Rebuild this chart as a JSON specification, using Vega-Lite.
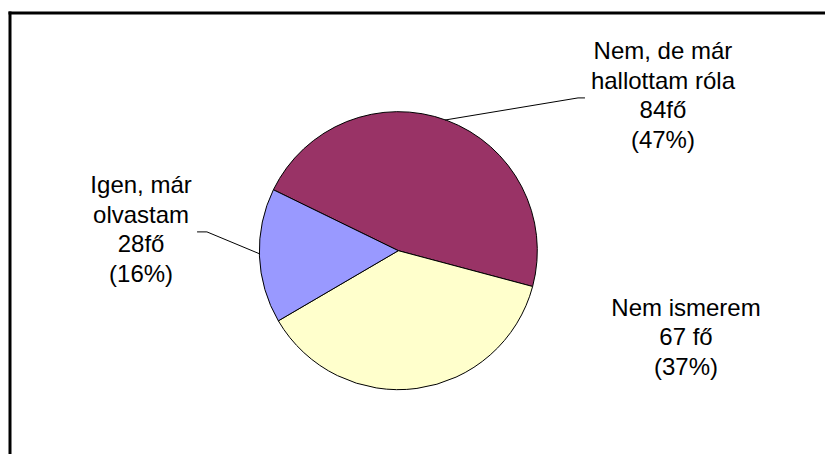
{
  "$schema": "https://vega.github.io/schema/vega-lite/v6.json",
  "width": 815,
  "height": 441,
  "padding": {"left": 10, "top": 13, "right": 0, "bottom": 0},
  "autosize": {"type": "none"},
  "background": "white",
  "config": {"view": {"stroke": null}, "font": "Liberation Sans"},
  "datasets": {
    "slices": [
      {"answer": "Nem, de már hallottam róla", "count": 84, "order": 1},
      {"answer": "Nem ismerem", "count": 67, "order": 2},
      {"answer": "Igen, már olvastam", "count": 28, "order": 3}
    ],
    "labels": [
      {"label": "Nem, de már\nhallottam róla\n84fő\n(47%)", "lx": 1.904, "ly": 1.379},
      {"label": "Nem ismerem\n67 fő\n(37%)", "lx": 2.07, "ly": -0.47},
      {"label": "Igen, már\nolvastam\n28fő\n(16%)", "lx": -1.851, "ly": 0.413}
    ],
    "leaders": [
      {"id": "a", "i": 1, "px": 0.336, "py": 0.94},
      {"id": "a", "i": 2, "px": 1.293, "py": 1.099},
      {"id": "a", "i": 3, "px": 1.343, "py": 1.099},
      {"id": "b", "i": 1, "px": -0.995, "py": -0.024},
      {"id": "b", "i": 2, "px": -1.377, "py": 0.135},
      {"id": "b", "i": 3, "px": -1.448, "py": 0.135}
    ]
  },
  "layer": [
    {
      "data": {"name": "slices"},
      "mark": {"type": "arc", "outerRadius": 139, "stroke": "black", "strokeWidth": 1},
      "encoding": {
        "theta": {"field": "count", "type": "quantitative", "stack": true, "scale": {"range": [-1.117, 5.166]}},
        "order": {"field": "order", "type": "quantitative"},
        "color": {
          "field": "answer", "type": "nominal", "legend": null,
          "scale": {"domain": ["Nem, de már hallottam róla", "Nem ismerem", "Igen, már olvastam"], "range": ["#993366", "#FFFFCC", "#9999FF"]}
        },
        "x": {"datum": 0, "type": "quantitative", "scale": {"domain": [-2.794, 3.07], "nice": false, "zero": false}, "axis": null},
        "y": {"datum": 0, "type": "quantitative", "scale": {"domain": [-1.463, 1.71], "nice": false, "zero": false}, "axis": null}
      }
    },
    {
      "data": {"name": "leaders"},
      "mark": {"type": "line", "color": "black", "strokeWidth": 1},
      "encoding": {
        "x": {"field": "px", "type": "quantitative", "scale": {"domain": [-2.794, 3.07], "nice": false, "zero": false}, "axis": null},
        "y": {"field": "py", "type": "quantitative", "scale": {"domain": [-1.463, 1.71], "nice": false, "zero": false}, "axis": null},
        "detail": {"field": "id", "type": "nominal"},
        "order": {"field": "i", "type": "quantitative"}
      }
    },
    {
      "data": {"name": "labels"},
      "mark": {"type": "text", "align": "center", "baseline": "alphabetic", "lineBreak": "\n", "lineHeight": 29.5, "fontSize": 24, "font": "Liberation Sans", "color": "black"},
      "encoding": {
        "x": {"field": "lx", "type": "quantitative", "scale": {"domain": [-2.794, 3.07], "nice": false, "zero": false}, "axis": null},
        "y": {"field": "ly", "type": "quantitative", "scale": {"domain": [-1.463, 1.71], "nice": false, "zero": false}, "axis": null},
        "text": {"field": "label", "type": "nominal"}
      }
    },
    {
      "data": {"values": [{}]},
      "mark": {"type": "rule", "color": "black", "strokeWidth": 3, "strokeCap": "square"},
      "encoding": {
        "x": {"datum": -2.794, "type": "quantitative"},
        "x2": {"datum": 3.07},
        "y": {"datum": 1.71, "type": "quantitative"}
      }
    },
    {
      "data": {"values": [{}]},
      "mark": {"type": "rule", "color": "black", "strokeWidth": 3, "strokeCap": "square"},
      "encoding": {
        "x": {"datum": -2.794, "type": "quantitative"},
        "y": {"datum": -1.463, "type": "quantitative"},
        "y2": {"datum": 1.71}
      }
    }
  ]
}
